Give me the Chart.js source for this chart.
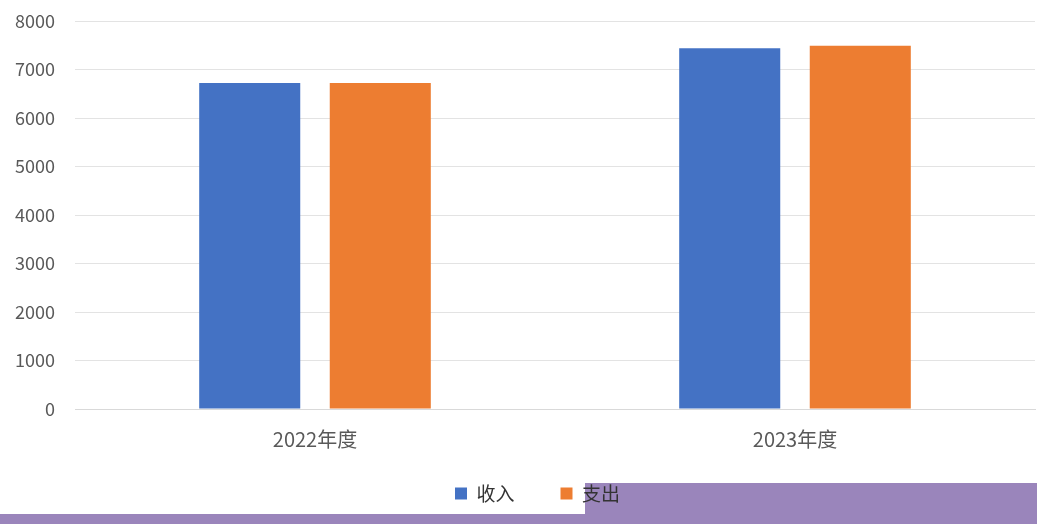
<!DOCTYPE html>
<html><head><meta charset="utf-8">
<script src="https://cdn.jsdelivr.net/npm/chart.js@4/dist/chart.umd.min.js"></script>
<style>
html,body{margin:0;padding:0;background:#fff;}
#wrap{position:relative;width:1037px;height:524px;overflow:hidden;}
.band1{position:absolute;left:585px;top:483px;width:452px;height:41px;background:#9a85bb;}
.band2{position:absolute;left:0;top:514px;width:1037px;height:10px;background:#9a85bb;}
canvas{position:absolute;left:0;top:0;}
</style></head>
<body><div id="wrap"><div class="band1"></div><div class="band2"></div><canvas id="c" width="1037" height="524"></canvas></div>
<script>
const categories = ["2022年度", "2023年度"];
const income = [6720, 7440];
const expense = [6720, 7490];
const seriesNames = ["收入", "支出"];
const yTicks = [0,1000,2000,3000,4000,5000,6000,7000,8000];

const font = "'Noto Sans CJK SC', 'Noto Sans', sans-serif";
const shiftLegend = {
  id: 'shiftLegend',
  afterLayout(chart) {
    const lg = chart.legend;
    if (lg) { lg.left += 20; lg.right += 20; lg.top -= 23; lg.bottom -= 23; }
  }
};
new Chart(document.getElementById('c'), {
  type: 'bar',
  data: {
    labels: categories,
    datasets: [
      {label: seriesNames[0], data: income, backgroundColor: '#4472c4', categoryPercentage: 0.544, barPercentage: 0.774},
      {label: seriesNames[1], data: expense, backgroundColor: '#ed7d31', categoryPercentage: 0.544, barPercentage: 0.774}
    ]
  },
  plugins: [shiftLegend],
  options: {
    responsive: false,
    animation: false,
    devicePixelRatio: 1,
    layout: {padding: {top: 21, right: 2, left: 0, bottom: -12}},
    plugins: {
      tooltip: {enabled: false},
      legend: {
        position: 'bottom',
        labels: {
          boxWidth: 12, boxHeight: 12, padding: 46,
          color: '#333', font: {family: font, size: 19}
        }
      }
    },
    scales: {
      x: {
        grid: {display: false},
        border: {display: true, color: '#d9d9d9'},
        ticks: {color: '#595959', font: {family: font, size: 20}, padding: 10}
      },
      y: {
        min: 0, max: 8000,
        afterBuildTicks: (ax) => { ax.ticks = yTicks.map(v => ({value: v})); },
        afterFit: (ax) => { ax.width = 75; ax.paddingTop = 0; },
        grid: {color: '#e3e3e3', drawTicks: false},
        border: {display: false},
        ticks: {color: '#595959', font: {family: font, size: 18}, padding: 20, callback: (v) => String(v)}
      }
    }
  }
});
</script></body></html>
